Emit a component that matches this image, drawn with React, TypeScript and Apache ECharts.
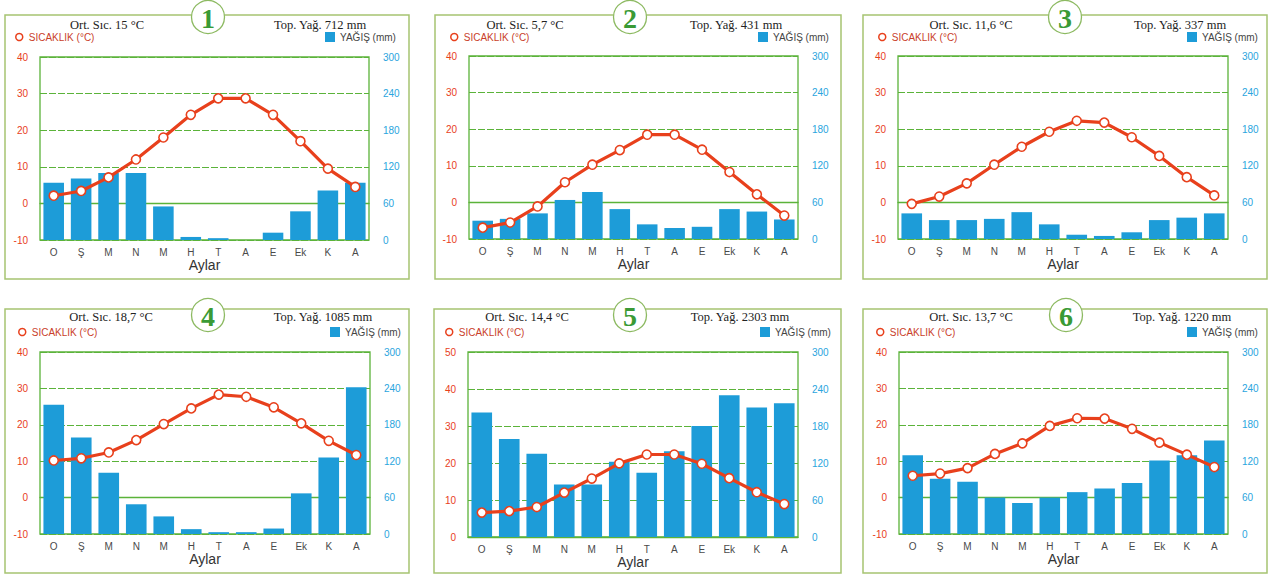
import React, { useEffect, useRef } from "react";
import * as echarts from "echarts";

const months = ["O", "Ş", "M", "N", "M", "H", "T", "A", "E", "Ek", "K", "A"];

const temp1 = [2.1, 3.4, 7.1, 12, 18, 24.2, 28.7, 28.7, 24.2, 17, 9.5, 4.5];
const rain1 = [94, 101, 110, 110, 55, 5, 3, 0, 12, 47, 81, 94];
const temp2 = [-6.9, -5.5, -1.1, 5.5, 10.3, 14.3, 18.5, 18.5, 14.4, 8.3, 2.2, -3.6];
const rain2 = [30, 33, 42, 64, 77, 49, 24, 18, 20, 49, 45, 32];
const temp3 = [-0.4, 1.6, 5.2, 10.3, 15.2, 19.3, 22.3, 21.8, 17.8, 12.7, 6.9, 1.9];
const rain3 = [42, 31, 31, 33, 44, 24, 7, 5, 11, 31, 35, 42];
const temp4 = [10.2, 10.8, 12.4, 15.8, 20.2, 24.5, 28.3, 27.7, 24.8, 20.4, 15.6, 11.7];
const rain4 = [213, 159, 101, 49, 29, 8, 3, 3, 9, 67, 126, 242];
const temp5 = [6.6, 7.0, 8.1, 12, 15.8, 19.9, 22.3, 22.3, 19.8, 15.9, 12.1, 8.9];
const rain5 = [202, 159, 135, 85, 85, 122, 104, 139, 180, 230, 210, 217];
const temp6 = [6, 6.6, 8.1, 12, 14.9, 19.7, 21.8, 21.7, 18.9, 15.1, 11.8, 8.4];
const rain6 = [130, 91, 86, 60, 51, 60, 69, 75, 84, 121, 130, 154];

const avgTexts = ["Ort. Sıc. 15 °C", "Ort. Sıc. 5,7 °C", "Ort. Sıc. 11,6 °C", "Ort. Sıc. 18,7 °C", "Ort. Sıc. 14,4 °C", "Ort. Sıc. 13,7 °C"];
const totalTexts = ["Top. Yağ. 712 mm", "Top. Yağ. 431 mm", "Top. Yağ. 337 mm", "Top. Yağ. 1085 mm", "Top. Yağ. 2303 mm", "Top. Yağ. 1220 mm"];
const badgeLabels = ["1", "2", "3", "4", "5", "6"];
const tempMax = [40, 40, 40, 40, 50, 40];
const tempMin = [-10, -10, -10, -10, 0, -10];
const rainMax = [300, 300, 300, 300, 300, 300];

const temps = [temp1, temp2, temp3, temp4, temp5, temp6];
const rains = [rain1, rain2, rain3, rain4, rain5, rain6];

const TEMP_NAME = "SICAKLIK (°C)";
const RAIN_NAME = "YAĞIŞ (mm)";

// layout (positions only)
const layout = [
  { fx: 5, fy: 15, fw: 404, fh: 264, gl: 40, gt: 57, gw: 329, gh: 183, ox: 107, tx: 320, bx: 208, by: 17, ty: 25, ly: 38, tl: 15, rl: 325 },
  { fx: 435, fy: 15, fw: 406, fh: 264, gl: 469, gt: 56, gw: 329, gh: 183, ox: 525, tx: 736, bx: 630, by: 17, ty: 25, ly: 38, tl: 450, rl: 758 },
  { fx: 863, fy: 15, fw: 404, fh: 264, gl: 898, gt: 56, gw: 330, gh: 183, ox: 971, tx: 1180, bx: 1065, by: 17, ty: 25, ly: 38, tl: 878, rl: 1187 },
  { fx: 5, fy: 309, fw: 404, fh: 264, gl: 40, gt: 352, gw: 330, gh: 182, ox: 111, tx: 323, bx: 208, by: 315, ty: 317, ly: 333, tl: 18, rl: 330 },
  { fx: 434, fy: 309, fw: 407, fh: 264, gl: 468, gt: 352, gw: 330, gh: 185, ox: 527, tx: 740, bx: 630, by: 315, ty: 317, ly: 333, tl: 445, rl: 760 },
  { fx: 863, fy: 309, fw: 404, fh: 264, gl: 899, gt: 352, gw: 329, gh: 182, ox: 971, tx: 1182, bx: 1066, by: 315, ty: 317, ly: 333, tl: 876, rl: 1187 },
];

const GREEN = "#5bb33a";
const RED = "#e8401c";
const BLUE = "#1d9cd8";

export default function App() {
  const ref = useRef<HTMLDivElement>(null);
  useEffect(() => {
    if (!ref.current) return;
    const chart = echarts.init(ref.current, undefined, { renderer: "svg" });
    const grids: any[] = [];
    const xAxes: any[] = [];
    const yAxes: any[] = [];
    const series: any[] = [];
    const legends: any[] = [];
    const graphics: any[] = [];

    layout.forEach((L, i) => {
      grids.push({
        left: L.gl, top: L.gt, width: L.gw, height: L.gh,
        show: true, borderColor: GREEN, borderWidth: 1.3, backgroundColor: "transparent",
      });
      xAxes.push({
        type: "category", gridIndex: i, data: months,
        name: "Aylar", nameLocation: "middle", nameGap: 17,
        nameTextStyle: { fontSize: 14, color: "#333", fontFamily: "Liberation Sans" },
        axisLine: { lineStyle: { color: GREEN, width: 1.3 } },
        axisTick: { show: false },
        axisLabel: { interval: 0, color: "#4a4a4a", fontSize: 10, margin: 7 },
        splitLine: { show: false },
      });
      yAxes.push({
        type: "value", gridIndex: i, position: "left",
        min: tempMin[i], max: tempMax[i], interval: 10,
        axisLine: { show: false }, axisTick: { show: false },
        axisLabel: { color: RED, fontSize: 10, margin: 12 },
        splitLine: { show: true, lineStyle: { color: GREEN, type: [7, 2], width: 1 } },
      });
      yAxes.push({
        type: "value", gridIndex: i, position: "right",
        min: 0, max: rainMax[i], interval: 60,
        axisLine: { show: false }, axisTick: { show: false },
        axisLabel: { color: "#2aa5de", fontSize: 10, margin: 14 },
        splitLine: { show: false },
      });
      series.push({
        type: "bar", name: RAIN_NAME, xAxisIndex: i, yAxisIndex: 2 * i + 1,
        data: rains[i], barWidth: "75%", itemStyle: { color: BLUE }, z: 2,
      });
      series.push({
        type: "line", name: TEMP_NAME, xAxisIndex: i, yAxisIndex: 2 * i,
        data: temps[i], symbol: "circle", symbolSize: 9,
        lineStyle: { color: RED, width: 3.2 },
        itemStyle: { color: "#fff", borderColor: RED, borderWidth: 1.6 },
        z: 3,
      });
      legends.push({
        data: [{ name: TEMP_NAME, icon: "circle" }], left: L.tl, top: L.ly - 6,
        itemWidth: 7, itemHeight: 7, itemGap: 4, padding: 0,
        itemStyle: { color: "#fff", borderColor: RED, borderWidth: 1.5 },
        lineStyle: { width: 0 },
        textStyle: { color: "#c9402a", fontSize: 10, padding: [0, 0, 0, 1] },
        selectedMode: false,
      });
      legends.push({
        data: [{ name: RAIN_NAME, icon: "rect" }], left: L.rl, top: L.ly - 6,
        itemWidth: 10, itemHeight: 10, padding: 0,
        textStyle: { color: "#444", fontSize: 10 },
        selectedMode: false,
      });
      graphics.push({
        type: "rect", z: 0, silent: true,
        shape: { x: L.fx, y: L.fy, width: L.fw, height: L.fh },
        style: { fill: "none", stroke: "#a6c472", lineWidth: 1.5 },
      });
      graphics.push({
        type: "circle", z: 10, silent: true,
        shape: { cx: L.bx, cy: L.by, r: 16.5 },
        style: { fill: "#fff", stroke: "#8dba62", lineWidth: 1.3 },
      });
      graphics.push({
        type: "text", z: 11, silent: true, x: L.bx, y: L.by + 1,
        style: {
          text: badgeLabels[i], fill: "#3a9a35", font: "bold 28px 'Liberation Serif', serif",
          align: "center", verticalAlign: "middle",
        },
      });
      graphics.push({
        type: "text", z: 11, silent: true, x: L.ox, y: L.ty,
        style: {
          text: avgTexts[i], fill: "#222", font: "12.5px 'Liberation Serif', serif",
          align: "center", verticalAlign: "middle",
        },
      });
      graphics.push({
        type: "text", z: 11, silent: true, x: L.tx, y: L.ty,
        style: {
          text: totalTexts[i], fill: "#222", font: "12.5px 'Liberation Serif', serif",
          align: "center", verticalAlign: "middle",
        },
      });
    });

    chart.setOption({
      animation: false,
      backgroundColor: "#fff",
      textStyle: { fontFamily: "Liberation Sans, Arial, sans-serif" },
      grid: grids,
      xAxis: xAxes,
      yAxis: yAxes,
      series,
      legend: legends,
      graphic: graphics,
    });
    return () => chart.dispose();
  }, []);
  return (
    <div style={{ position: "fixed", left: 0, top: 0, width: 1272, height: 575, background: "#fff" }}>
      <div ref={ref} style={{ width: 1272, height: 575 }} />
    </div>
  );
}
